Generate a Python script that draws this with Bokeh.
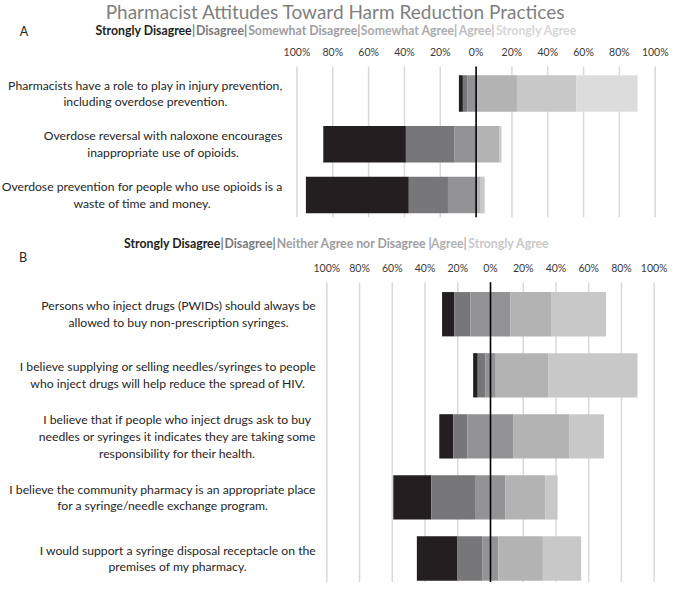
import numpy as np
from bokeh.plotting import figure
from bokeh.models import Range1d
from bokeh.core.properties import value
from bokeh.embed import file_html
from bokeh.resources import INLINE

# ---------------- data ----------------
title = "Pharmacist Attitudes Toward Harm Reduction Practices"

a_statements = [
    "Pharmacists have a role to play in injury prevention,\nincluding overdose prevention.",
    "Overdose reversal with naloxone encourages\ninappropriate use of opioids.",
    "Overdose prevention for people who use opioids is a\nwaste of time and money.",
]
a_levels = ["Strongly Disagree", "Disagree", "Somewhat Disagree",
            "Somewhat Agree", "Agree", "Strongly Agree"]
a_strongly_disagree = [2.2, 46.1, 57.4]
a_disagree = [2.5, 27.0, 21.9]
a_somewhat_disagree = [4.9, 12.2, 15.7]
a_somewhat_agree = [22.8, 13.1, 2.6]
a_agree = [33.2, 0.8, 2.2]
a_strongly_agree = [34.1, 0.4, 0.0]

b_statements = [
    "Persons who inject drugs (PWIDs) should always be\nallowed to buy non-prescription syringes.",
    "I believe supplying or selling needles/syringes to people\nwho inject drugs will help reduce the spread of HIV.",
    "I believe that if people who inject drugs ask to buy\nneedles or syringes it indicates they are taking some\nresponsibility for their health.",
    "I believe the community pharmacy is an appropriate place\nfor a syringe/needle exchange program.",
    "I would support a syringe disposal receptacle on the\npremises of my pharmacy.",
]
b_levels = ["Strongly Disagree", "Disagree", "Neither Agree nor Disagree ",
            "Agree", "Strongly Agree"]
b_strongly_disagree = [7.4, 2.8, 8.6, 23.2, 24.6]
b_disagree = [10.0, 4.6, 8.6, 27.2, 15.6]
b_neither = [24.4, 6.4, 28.2, 18.0, 9.6]
b_agree = [25.2, 32.0, 34.2, 24.4, 27.2]
b_strongly_agree = [33.2, 54.6, 21.0, 7.6, 23.4]

tick_values = [-100, -80, -60, -40, -20, 0, 20, 40, 60, 80, 100]
tick_labels = ["100%", "80%", "60%", "40%", "20%", "0%", "20%", "40%", "60%", "80%", "100%"]

# ---------------- styles / layout ----------------
FONT = value("Lato")
a_colors = ["#231f20", "#77777a", "#939396", "#b3b3b4", "#c8c8c9", "#dcdcdd"]
b_colors = ["#231f20", "#77777a", "#939396", "#b3b3b4", "#c8c8c9"]
a_text_colors = ["#231f20", "#7a7a7c", "#9d9d9f", "#ababac", "#bdbdbe", "#d6d6d7"]
b_text_colors = ["#231f20", "#7a7a7c", "#9d9d9f", "#b0b0b1", "#c8c8c9"]

W, H = 669, 582
# page-pixel coordinate system (reference pixels), slightly compressed to fit
px_x0, px_scale = 4.0, 0.98
px_x1 = px_x0 + W / px_scale
py_scale = 0.985
py_top = 0.0
py_bot = H / py_scale

# panel percentage scales: ref_x = zero + k * value
a_zero, a_k = 489.3, 1.828
b_zero, b_k = 504.0, 1.670

p = figure(width=W, height=H, output_backend="svg", toolbar_location=None,
           x_range=Range1d(px_x0, px_x1), y_range=Range1d(py_bot, py_top),
           x_axis_type=None, y_axis_type=None, min_border=0,
           outline_line_color=None, background_fill_color="white")
p.extra_x_ranges = {
    "A": Range1d((px_x0 - a_zero) / a_k, (px_x1 - a_zero) / a_k),
    "B": Range1d((px_x0 - b_zero) / b_k, (px_x1 - b_zero) / b_k),
}

# row layout
a_y = [94.5 + 51.5 * i for i in range(len(a_statements))]
a_h = 37
b_y = [318.5 + 62.0 * i for i in range(len(b_statements))]
b_h = 45
a_grid_top, a_grid_bot = 67, 220
b_grid_top, b_grid_bot = 286, 600

# ---------------- gridlines ----------------
grid_x = [t for t in tick_values if t != 0]
for rng, top, bot in (("A", a_grid_top, a_grid_bot), ("B", b_grid_top, b_grid_bot)):
    p.segment(x0=grid_x, x1=grid_x, y0=[top] * len(grid_x), y1=[bot] * len(grid_x),
              line_color="#d9d9d9", line_width=1.5, x_range_name=rng)

# ---------------- panel A bars ----------------
a_vals = np.array([a_strongly_disagree, a_disagree, a_somewhat_disagree,
                   a_somewhat_agree, a_agree, a_strongly_agree])
neg = a_vals[:3][::-1]  # somewhat disagree, disagree, strongly disagree (outward)
neg_cum = np.cumsum(neg, axis=0)
pos = a_vals[3:]
pos_cum = np.cumsum(pos, axis=0)
for j in range(3):
    k = 2 - j
    p.hbar(y=a_y, left=-neg_cum[j], right=-(neg_cum[j] - neg[j]), height=a_h,
           fill_color=a_colors[k], line_color=None, x_range_name="A")
for j in range(3):
    p.hbar(y=a_y, left=pos_cum[j] - pos[j], right=pos_cum[j], height=a_h,
           fill_color=a_colors[3 + j], line_color=None, x_range_name="A")

# ---------------- panel B bars ----------------
b_sd = np.array(b_strongly_disagree)
b_d = np.array(b_disagree)
b_n = np.array(b_neither)
b_a = np.array(b_agree)
b_sa = np.array(b_strongly_agree)
half = b_n / 2
b_left = [-(half + b_d + b_sd), -(half + b_d), -half, half, half + b_a]
b_right = [-(half + b_d), -half, half, half + b_a, half + b_a + b_sa]
for k in range(5):
    p.hbar(y=b_y, left=b_left[k], right=b_right[k], height=b_h,
           fill_color=b_colors[k], line_color=None, x_range_name="B")

# ---------------- zero lines ----------------
p.segment(x0=[0], x1=[0], y0=[a_grid_top], y1=[a_grid_bot], line_color="black",
          line_width=1.6, x_range_name="A")
p.segment(x0=[0], x1=[0], y0=[b_grid_top], y1=[b_grid_bot], line_color="black",
          line_width=1.6, x_range_name="B")

# ---------------- tick labels ----------------
p.text(x=tick_values, y=[52] * len(tick_values), text=tick_labels, x_range_name="A",
       text_font=FONT, text_font_size="10.5px", text_color="#3a3a3a",
       text_align="center", text_baseline="middle")
p.text(x=tick_values, y=[272] * len(tick_values), text=tick_labels, x_range_name="B",
       text_font=FONT, text_font_size="10.5px", text_color="#3a3a3a",
       text_align="center", text_baseline="middle")

# ---------------- category labels ----------------
p.text(x=[292] * len(a_statements), y=a_y, text=a_statements,
       text_font=FONT, text_font_size="12.2px", text_color="#262626",
       anchor="center_right", text_align="center", text_baseline="middle",
       text_line_height=1.12)
p.text(x=[326] * len(b_statements), y=b_y, text=b_statements,
       text_font=FONT, text_font_size="12.2px", text_color="#262626",
       anchor="center_right", text_align="center", text_baseline="middle",
       text_line_height=1.12)

# ---------------- title, panel letters ----------------
p.text(x=[346], y=[11], text=[title], text_font=FONT,
       text_font_size="19px", text_color="#7f7f7f",
       text_align="center", text_baseline="middle")
p.text(x=[28, 27], y=[31, 261], text=["A", "B"], text_font=FONT,
       text_font_size="12.5px", text_color="#262626",
       text_align="center", text_baseline="middle")

# ---------------- legend rows ----------------
# each piece carries its trailing separator in its own colour
a_pieces = [a_levels[0], "|"] + [lv + "|" for lv in a_levels[1:-1]] + [a_levels[-1]]
a_piece_colors = [a_text_colors[0], "#77777a"] + a_text_colors[1:]
a_piece_x = [100.9, 199.4, 203.4, 256.7, 371.7, 471.5, 509.5]
b_pieces = [b_levels[0], "|"] + [lv + "|" for lv in b_levels[1:-1]] + [b_levels[-1]]
b_piece_colors = [b_text_colors[0], "#77777a"] + b_text_colors[1:]
b_piece_x = [130.0, 228.5, 232.5, 285.8, 443.3, 481.4]

p.text(x=a_piece_x, y=[30] * len(a_pieces), text=a_pieces, text_color=a_piece_colors,
       text_font=FONT, text_font_size="12.3px", text_font_style="bold",
       text_align="left", text_baseline="middle")
p.text(x=b_piece_x, y=[247] * len(b_pieces), text=b_pieces, text_color=b_piece_colors,
       text_font=FONT, text_font_size="12.3px", text_font_style="bold",
       text_align="left", text_baseline="middle")

open("out.html", "w").write(file_html(p, INLINE))
